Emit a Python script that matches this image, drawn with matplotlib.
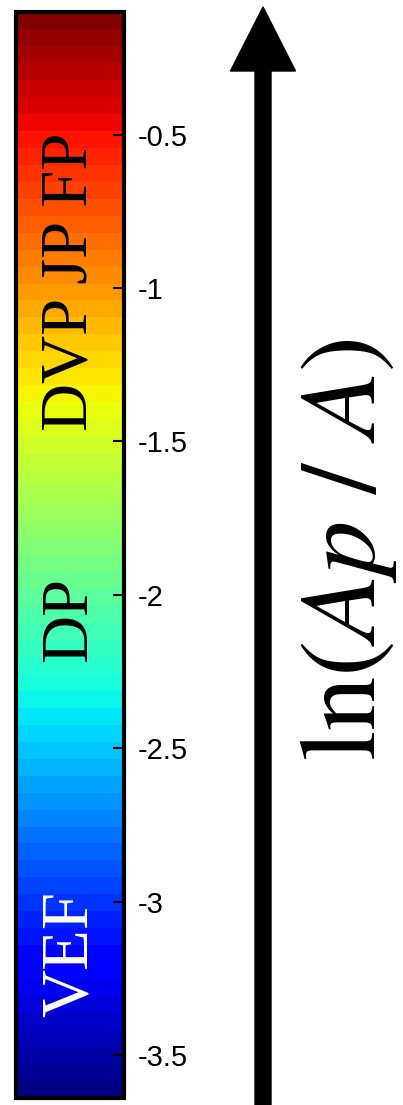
import numpy as np
import matplotlib.pyplot as plt
import matplotlib as mpl
from matplotlib.patches import FancyArrow

# colour scale range and ticks
vmin, vmax = -3.64, -0.1
tick_values = [-3.5, -3, -2.5, -2, -1.5, -1, -0.5]
tick_labels = ['-3.5', '-3', '-2.5', '-2', '-1.5', '-1', '-0.5']

# regime labels placed along the bar
regime_names = ['VEF', 'DP', 'DVP JP FP']
regime_values = [-3.17, -2.08, -0.98]
regime_colors = ['white', 'black', 'black']

plt.rcParams['mathtext.fontset'] = 'stix'

fig = plt.figure(figsize=(4.03, 11.05), dpi=100)

cax = fig.add_axes([16 / 403, 7 / 1105, 108 / 403, 1086 / 1105])
cmap = plt.get_cmap('jet', 64)
norm = mpl.colors.Normalize(vmin=vmin, vmax=vmax)
sm = mpl.cm.ScalarMappable(norm=norm, cmap=cmap)
cb = fig.colorbar(sm, cax=cax, orientation='vertical')
cb.set_ticks(tick_values)
cb.set_ticklabels(tick_labels)
cb.outline.set_linewidth(3)
cax.tick_params(direction='in', length=8, width=1.5, pad=10,
                labelsize=21, right=True, left=False)
for lab in cax.get_yticklabels():
    lab.set_family('Liberation Sans')

for name, val, col in zip(regime_names, regime_values, regime_colors):
    cax.text(0.5, val, name, rotation=90, ha='center', va='center',
             fontsize=48, family='Liberation Serif', color=col,
             transform=cax.get_yaxis_transform())

# arrow and label on the right
ax = fig.add_axes([0, 0, 1, 1])
ax.set_xlim(0, 403)
ax.set_ylim(0, 1105)
ax.axis('off')
ax.add_patch(FancyArrow(263, -20, 0, 1118, width=16, head_width=65,
                        head_length=64, length_includes_head=True,
                        color='black'))
ax.text(346, 555, r'$\mathrm{ln}(Ap\ /\ A)$', rotation=90, ha='center',
        va='center', fontsize=78)

fig.savefig('out.png', dpi=100)
